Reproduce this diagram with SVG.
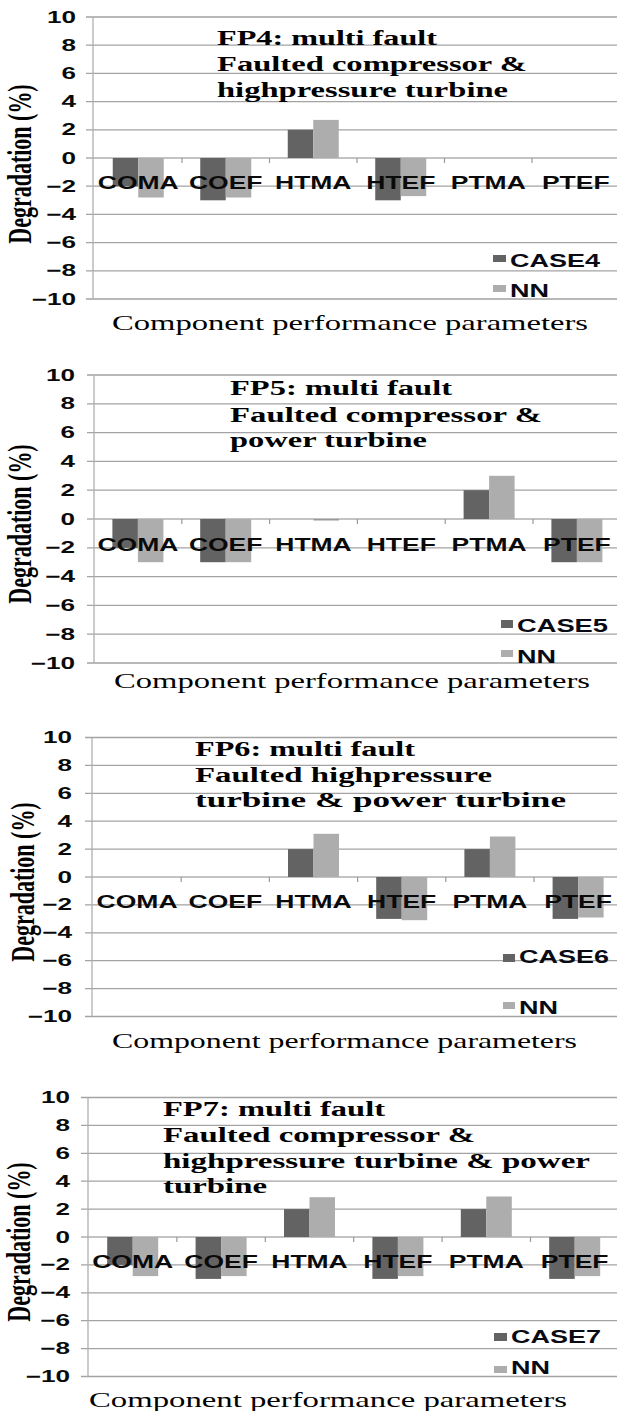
<svg xmlns="http://www.w3.org/2000/svg" width="617" height="1411" viewBox="0 0 617 1411">
<style>
.grid{stroke:#a3a3a3;stroke-width:1.3;fill:none}
.axis{stroke:#b0b0b0;stroke-width:1.3;fill:none}
.tick{stroke:#9a9a9a;stroke-width:1.2}
.d{fill:#636363}
.l{fill:#adadad}
.yl{font-family:"Liberation Sans",Arial,sans-serif;font-weight:bold;font-size:16.5px;fill:#0a0a0a}
.cl{font-family:"Liberation Sans",Arial,sans-serif;font-weight:bold;font-size:17.5px;fill:#0a0a0a}
.lg{font-family:"Liberation Sans",Arial,sans-serif;font-weight:bold;font-size:17.5px;fill:#0a0a14}
.tt{font-family:"Liberation Serif","Times New Roman",serif;font-weight:bold;font-size:20.5px;fill:#000}
.xt{font-family:"Liberation Serif","Times New Roman",serif;font-size:21px;fill:#000}
.yt{font-family:"Liberation Serif","Times New Roman",serif;font-weight:bold;font-size:22px;fill:#000;text-anchor:middle}
</style>
<rect width="617" height="1411" fill="#fff"/>

<!-- ===== Chart 1 ===== -->
<g id="chart-fp4">
 <g id="fp4-grid">
  <path class="grid" d="M86 17H617M86 45.2H617M86 73.4H617M86 101.6H617M86 129.8H617M86 186.2H617M86 214.4H617M86 242.6H617M86 270.8H617M86 299H617"/>
  <path class="axis" d="M93 17V299M86 158H617"/>
  <path class="tick" d="M182 158v5M269.5 158v5M357 158v5M444.5 158v5M532 158v5"/>
 </g>
 <g id="fp4-bars">
  <rect class="d" x="112.75" y="158" width="25.5" height="28.2"/>
  <rect class="l" x="138.25" y="158" width="25.5" height="39.5"/>
  <rect class="d" x="200.25" y="158" width="25.5" height="42.3"/>
  <rect class="l" x="225.75" y="158" width="25.5" height="39.5"/>
  <rect class="d" x="287.75" y="129.8" width="25.5" height="28.2"/>
  <rect class="l" x="313.25" y="119.9" width="25.5" height="38.1"/>
  <rect class="d" x="375.25" y="158" width="25.5" height="42.3"/>
  <rect class="l" x="400.75" y="158" width="25.5" height="38.1"/>
 </g>
 <g id="fp4-yaxis">
  <text class="yl" x="47" y="22.5" textLength="29" lengthAdjust="spacingAndGlyphs">10</text>
  <text class="yl" x="61.5" y="50.7" textLength="14.5" lengthAdjust="spacingAndGlyphs">8</text>
  <text class="yl" x="61.5" y="78.9" textLength="14.5" lengthAdjust="spacingAndGlyphs">6</text>
  <text class="yl" x="61.5" y="107.1" textLength="14.5" lengthAdjust="spacingAndGlyphs">4</text>
  <text class="yl" x="61.5" y="135.3" textLength="14.5" lengthAdjust="spacingAndGlyphs">2</text>
  <text class="yl" x="61.5" y="163.5" textLength="14.5" lengthAdjust="spacingAndGlyphs">0</text>
  <text class="yl" x="46.2" y="191.7" textLength="29.8" lengthAdjust="spacingAndGlyphs">−2</text>
  <text class="yl" x="46.2" y="219.9" textLength="29.8" lengthAdjust="spacingAndGlyphs">−4</text>
  <text class="yl" x="46.2" y="248.1" textLength="29.8" lengthAdjust="spacingAndGlyphs">−6</text>
  <text class="yl" x="46.2" y="276.3" textLength="29.8" lengthAdjust="spacingAndGlyphs">−8</text>
  <text class="yl" x="31.7" y="304.5" textLength="44.3" lengthAdjust="spacingAndGlyphs">−10</text>
  <text class="yt" transform="translate(31 164) scale(1.56 1) rotate(-90)">Degradation (%)</text>
 </g>
 <g id="fp4-cats">
  <text class="cl" x="97.75" y="189" textLength="81" lengthAdjust="spacingAndGlyphs">COMA</text>
  <text class="cl" x="188.95" y="189" textLength="73.6" lengthAdjust="spacingAndGlyphs">COEF</text>
  <text class="cl" x="275" y="189" textLength="76.5" lengthAdjust="spacingAndGlyphs">HTMA</text>
  <text class="cl" x="366.15" y="189" textLength="69.2" lengthAdjust="spacingAndGlyphs">HTEF</text>
  <text class="cl" x="450.75" y="189" textLength="75" lengthAdjust="spacingAndGlyphs">PTMA</text>
  <text class="cl" x="541.9" y="189" textLength="67.7" lengthAdjust="spacingAndGlyphs">PTEF</text>
 </g>
 <g id="fp4-title">
  <text class="tt" x="217" y="45" textLength="220" lengthAdjust="spacingAndGlyphs">FP4: multi fault</text>
  <text class="tt" x="217" y="71" textLength="310" lengthAdjust="spacingAndGlyphs">Faulted compressor &amp;</text>
  <text class="tt" x="217" y="97" textLength="291" lengthAdjust="spacingAndGlyphs">highpressure turbine</text>
 </g>
 <g id="fp4-legend">
  <rect class="d" x="493" y="255" width="13" height="7"/>
  <text class="lg" x="510" y="267" textLength="90" lengthAdjust="spacingAndGlyphs">CASE4</text>
  <rect class="l" x="493" y="285" width="13" height="7"/>
  <text class="lg" x="510" y="297" textLength="39" lengthAdjust="spacingAndGlyphs">NN</text>
 </g>
 <text class="xt" x="112" y="330" textLength="476" lengthAdjust="spacingAndGlyphs">Component performance parameters</text>
</g>

<!-- ===== Chart 2 ===== -->
<g id="chart-fp5">
 <g id="fp5-grid">
  <path class="grid" d="M87 375H617M87 403.8H617M87 432.6H617M87 461.4H617M87 490.2H617M87 547.8H617M87 576.6H617M87 605.4H617M87 634.2H617M87 663H617"/>
  <path class="axis" d="M94 375V663M87 519H617"/>
  <path class="tick" d="M181.8 519v5M269.6 519v5M357.4 519v5M445.2 519v5M533 519v5"/>
 </g>
 <g id="fp5-bars">
  <rect class="d" x="112.4" y="519" width="25.5" height="28.8"/>
  <rect class="l" x="137.9" y="519" width="25.5" height="43.2"/>
  <rect class="d" x="200.2" y="519" width="25.5" height="43.2"/>
  <rect class="l" x="225.7" y="519" width="25.5" height="43.2"/>
  <rect fill="#999" x="313.5" y="519" width="25.5" height="1.5"/>
  <rect class="d" x="463.6" y="490.2" width="25.5" height="28.8"/>
  <rect class="l" x="489.1" y="475.8" width="25.5" height="43.2"/>
  <rect class="d" x="551.4" y="519" width="25.5" height="43.2"/>
  <rect class="l" x="576.9" y="519" width="25.5" height="43.2"/>
 </g>
 <g id="fp5-yaxis">
  <text class="yl" x="46" y="380.5" textLength="29" lengthAdjust="spacingAndGlyphs">10</text>
  <text class="yl" x="60.5" y="409.3" textLength="14.5" lengthAdjust="spacingAndGlyphs">8</text>
  <text class="yl" x="60.5" y="438.1" textLength="14.5" lengthAdjust="spacingAndGlyphs">6</text>
  <text class="yl" x="60.5" y="466.9" textLength="14.5" lengthAdjust="spacingAndGlyphs">4</text>
  <text class="yl" x="60.5" y="495.7" textLength="14.5" lengthAdjust="spacingAndGlyphs">2</text>
  <text class="yl" x="60.5" y="524.5" textLength="14.5" lengthAdjust="spacingAndGlyphs">0</text>
  <text class="yl" x="45.2" y="553.3" textLength="29.8" lengthAdjust="spacingAndGlyphs">−2</text>
  <text class="yl" x="45.2" y="582.1" textLength="29.8" lengthAdjust="spacingAndGlyphs">−4</text>
  <text class="yl" x="45.2" y="610.9" textLength="29.8" lengthAdjust="spacingAndGlyphs">−6</text>
  <text class="yl" x="45.2" y="639.7" textLength="29.8" lengthAdjust="spacingAndGlyphs">−8</text>
  <text class="yl" x="30.7" y="668.5" textLength="44.3" lengthAdjust="spacingAndGlyphs">−10</text>
  <text class="yt" transform="translate(31 524) scale(1.56 1) rotate(-90)">Degradation (%)</text>
 </g>
 <g id="fp5-cats">
  <text class="cl" x="97.4" y="551" textLength="81" lengthAdjust="spacingAndGlyphs">COMA</text>
  <text class="cl" x="188.9" y="551" textLength="73.6" lengthAdjust="spacingAndGlyphs">COEF</text>
  <text class="cl" x="275.25" y="551" textLength="76.5" lengthAdjust="spacingAndGlyphs">HTMA</text>
  <text class="cl" x="366.7" y="551" textLength="69.2" lengthAdjust="spacingAndGlyphs">HTEF</text>
  <text class="cl" x="451.6" y="551" textLength="75" lengthAdjust="spacingAndGlyphs">PTMA</text>
  <text class="cl" x="543.05" y="551" textLength="67.7" lengthAdjust="spacingAndGlyphs">PTEF</text>
 </g>
 <g id="fp5-title">
  <text class="tt" x="230" y="395" textLength="222" lengthAdjust="spacingAndGlyphs">FP5: multi fault</text>
  <text class="tt" x="230" y="422" textLength="312" lengthAdjust="spacingAndGlyphs">Faulted compressor &amp;</text>
  <text class="tt" x="230" y="447" textLength="197" lengthAdjust="spacingAndGlyphs">power turbine</text>
 </g>
 <g id="fp5-legend">
  <rect class="d" x="501" y="620" width="12" height="8"/>
  <text class="lg" x="517" y="632" textLength="91" lengthAdjust="spacingAndGlyphs">CASE5</text>
  <rect class="l" x="501" y="650" width="12" height="7"/>
  <text class="lg" x="517" y="663" textLength="39" lengthAdjust="spacingAndGlyphs">NN</text>
 </g>
 <text class="xt" x="114" y="688" textLength="476" lengthAdjust="spacingAndGlyphs">Component performance parameters</text>
</g>

<!-- ===== Chart 3 ===== -->
<g id="chart-fp6">
 <g id="fp6-grid">
  <path class="grid" d="M85 737.5H617M85 765.4H617M85 793.3H617M85 821.2H617M85 849.1H617M85 904.9H617M85 932.8H617M85 960.7H617M85 988.6H617M85 1016.5H617"/>
  <path class="axis" d="M92 737.5V1016.5M85 877H617"/>
  <path class="tick" d="M181.2 877v5M269.4 877v5M357.6 877v5M445.8 877v5M534 877v5"/>
 </g>
 <g id="fp6-bars">
  <rect class="d" x="288" y="849.1" width="25.5" height="27.9"/>
  <rect class="l" x="313.5" y="833.8" width="25.5" height="43.2"/>
  <rect class="d" x="376.2" y="877" width="25.5" height="41.9"/>
  <rect class="l" x="401.7" y="877" width="25.5" height="43.2"/>
  <rect class="d" x="464.4" y="849.1" width="25.5" height="27.9"/>
  <rect class="l" x="489.9" y="836.5" width="25.5" height="40.5"/>
  <rect class="d" x="552.6" y="877" width="25.5" height="41.9"/>
  <rect class="l" x="578.1" y="877" width="25.5" height="40.5"/>
 </g>
 <g id="fp6-yaxis">
  <text class="yl" x="43" y="743" textLength="29" lengthAdjust="spacingAndGlyphs">10</text>
  <text class="yl" x="57.5" y="770.9" textLength="14.5" lengthAdjust="spacingAndGlyphs">8</text>
  <text class="yl" x="57.5" y="798.8" textLength="14.5" lengthAdjust="spacingAndGlyphs">6</text>
  <text class="yl" x="57.5" y="826.7" textLength="14.5" lengthAdjust="spacingAndGlyphs">4</text>
  <text class="yl" x="57.5" y="854.6" textLength="14.5" lengthAdjust="spacingAndGlyphs">2</text>
  <text class="yl" x="57.5" y="882.5" textLength="14.5" lengthAdjust="spacingAndGlyphs">0</text>
  <text class="yl" x="42.2" y="910.4" textLength="29.8" lengthAdjust="spacingAndGlyphs">−2</text>
  <text class="yl" x="42.2" y="938.3" textLength="29.8" lengthAdjust="spacingAndGlyphs">−4</text>
  <text class="yl" x="42.2" y="966.2" textLength="29.8" lengthAdjust="spacingAndGlyphs">−6</text>
  <text class="yl" x="42.2" y="994.1" textLength="29.8" lengthAdjust="spacingAndGlyphs">−8</text>
  <text class="yl" x="27.7" y="1022" textLength="44.3" lengthAdjust="spacingAndGlyphs">−10</text>
  <text class="yt" transform="translate(34 882) scale(1.56 1) rotate(-90)">Degradation (%)</text>
 </g>
 <g id="fp6-cats">
  <text class="cl" x="96.6" y="908" textLength="81" lengthAdjust="spacingAndGlyphs">COMA</text>
  <text class="cl" x="188.5" y="908" textLength="73.6" lengthAdjust="spacingAndGlyphs">COEF</text>
  <text class="cl" x="275.25" y="908" textLength="76.5" lengthAdjust="spacingAndGlyphs">HTMA</text>
  <text class="cl" x="367.1" y="908" textLength="69.2" lengthAdjust="spacingAndGlyphs">HTEF</text>
  <text class="cl" x="452.4" y="908" textLength="75" lengthAdjust="spacingAndGlyphs">PTMA</text>
  <text class="cl" x="544.25" y="908" textLength="67.7" lengthAdjust="spacingAndGlyphs">PTEF</text>
 </g>
 <g id="fp6-title">
  <text class="tt" x="195" y="756" textLength="220" lengthAdjust="spacingAndGlyphs">FP6: multi fault</text>
  <text class="tt" x="195" y="782" textLength="297" lengthAdjust="spacingAndGlyphs">Faulted highpressure</text>
  <text class="tt" x="195" y="807" textLength="371" lengthAdjust="spacingAndGlyphs">turbine &amp; power turbine</text>
 </g>
 <g id="fp6-legend">
  <rect class="d" x="503" y="954" width="12" height="8"/>
  <text class="lg" x="519" y="963" textLength="90" lengthAdjust="spacingAndGlyphs">CASE6</text>
  <rect class="l" x="503" y="1002" width="12" height="7"/>
  <text class="lg" x="519" y="1014" textLength="39" lengthAdjust="spacingAndGlyphs">NN</text>
 </g>
 <text class="xt" x="112" y="1048" textLength="465" lengthAdjust="spacingAndGlyphs">Component performance parameters</text>
</g>

<!-- ===== Chart 4 ===== -->
<g id="chart-fp7">
 <g id="fp7-grid">
  <path class="grid" d="M81 1097.5H617M81 1125.4H617M81 1153.3H617M81 1181.2H617M81 1209.1H617M81 1264.9H617M81 1292.8H617M81 1320.7H617M81 1348.6H617M81 1376.5H617"/>
  <path class="axis" d="M88 1097.5V1376.5M81 1237H617"/>
  <path class="tick" d="M176.9 1237v5M265.3 1237v5M353.7 1237v5M442.1 1237v5M530.5 1237v5"/>
 </g>
 <g id="fp7-bars">
  <rect class="d" x="107.2" y="1237" width="25.5" height="27.9"/>
  <rect class="l" x="132.7" y="1237" width="25.5" height="39.1"/>
  <rect class="d" x="195.6" y="1237" width="25.5" height="41.9"/>
  <rect class="l" x="221.1" y="1237" width="25.5" height="39.1"/>
  <rect class="d" x="284" y="1209.1" width="25.5" height="27.9"/>
  <rect class="l" x="309.5" y="1197.2" width="25.5" height="39.8"/>
  <rect class="d" x="372.4" y="1237" width="25.5" height="41.9"/>
  <rect class="l" x="397.9" y="1237" width="25.5" height="39.1"/>
  <rect class="d" x="460.8" y="1209.1" width="25.5" height="27.9"/>
  <rect class="l" x="486.3" y="1196.5" width="25.5" height="40.5"/>
  <rect class="d" x="549.2" y="1237" width="25.5" height="41.9"/>
  <rect class="l" x="574.7" y="1237" width="25.5" height="39.1"/>
 </g>
 <g id="fp7-yaxis">
  <text class="yl" x="41" y="1103" textLength="29" lengthAdjust="spacingAndGlyphs">10</text>
  <text class="yl" x="55.5" y="1130.9" textLength="14.5" lengthAdjust="spacingAndGlyphs">8</text>
  <text class="yl" x="55.5" y="1158.8" textLength="14.5" lengthAdjust="spacingAndGlyphs">6</text>
  <text class="yl" x="55.5" y="1186.7" textLength="14.5" lengthAdjust="spacingAndGlyphs">4</text>
  <text class="yl" x="55.5" y="1214.6" textLength="14.5" lengthAdjust="spacingAndGlyphs">2</text>
  <text class="yl" x="55.5" y="1242.5" textLength="14.5" lengthAdjust="spacingAndGlyphs">0</text>
  <text class="yl" x="40.2" y="1270.4" textLength="29.8" lengthAdjust="spacingAndGlyphs">−2</text>
  <text class="yl" x="40.2" y="1298.3" textLength="29.8" lengthAdjust="spacingAndGlyphs">−4</text>
  <text class="yl" x="40.2" y="1326.2" textLength="29.8" lengthAdjust="spacingAndGlyphs">−6</text>
  <text class="yl" x="40.2" y="1354.1" textLength="29.8" lengthAdjust="spacingAndGlyphs">−8</text>
  <text class="yl" x="25.7" y="1382" textLength="44.3" lengthAdjust="spacingAndGlyphs">−10</text>
  <text class="yt" transform="translate(30 1242) scale(1.56 1) rotate(-90)">Degradation (%)</text>
 </g>
 <g id="fp7-cats">
  <text class="cl" x="92.2" y="1268" textLength="81" lengthAdjust="spacingAndGlyphs">COMA</text>
  <text class="cl" x="184.3" y="1268" textLength="73.6" lengthAdjust="spacingAndGlyphs">COEF</text>
  <text class="cl" x="271.25" y="1268" textLength="76.5" lengthAdjust="spacingAndGlyphs">HTMA</text>
  <text class="cl" x="363.3" y="1268" textLength="69.2" lengthAdjust="spacingAndGlyphs">HTEF</text>
  <text class="cl" x="448.8" y="1268" textLength="75" lengthAdjust="spacingAndGlyphs">PTMA</text>
  <text class="cl" x="540.85" y="1268" textLength="67.7" lengthAdjust="spacingAndGlyphs">PTEF</text>
 </g>
 <g id="fp7-title">
  <text class="tt" x="163" y="1116" textLength="222" lengthAdjust="spacingAndGlyphs">FP7: multi fault</text>
  <text class="tt" x="163" y="1142" textLength="312" lengthAdjust="spacingAndGlyphs">Faulted compressor &amp;</text>
  <text class="tt" x="163" y="1168" textLength="427" lengthAdjust="spacingAndGlyphs">highpressure turbine &amp; power</text>
  <text class="tt" x="163" y="1193" textLength="104" lengthAdjust="spacingAndGlyphs">turbine</text>
 </g>
 <g id="fp7-legend">
  <rect class="d" x="494" y="1333" width="13" height="8"/>
  <text class="lg" x="511" y="1343" textLength="90" lengthAdjust="spacingAndGlyphs">CASE7</text>
  <rect class="l" x="494" y="1366" width="13" height="7"/>
  <text class="lg" x="511" y="1374" textLength="39" lengthAdjust="spacingAndGlyphs">NN</text>
 </g>
 <text class="xt" x="89" y="1407" textLength="478" lengthAdjust="spacingAndGlyphs">Component performance parameters</text>
</g>
</svg>
